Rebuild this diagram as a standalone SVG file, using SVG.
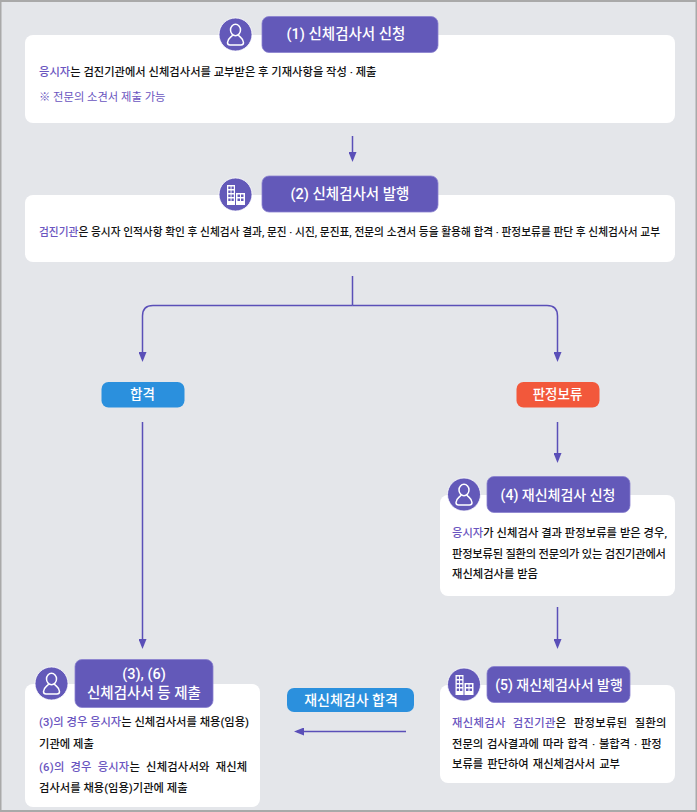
<svg xmlns="http://www.w3.org/2000/svg" width="697" height="812" viewBox="0 0 697 812">
<style>
text{font-family:Roboto,"Noto Sans CJK KR","Noto Sans",sans-serif}
.card{fill:#fff}
.head{fill:#6359b9;stroke:#8a82cf;stroke-width:.8}
.circ{fill:#6359b9;stroke:#fff;stroke-width:.8}
.ht{fill:#fff;font-size:14.5px;font-weight:500;text-anchor:middle}
.hs{fill:#fff;font-size:14px;font-weight:500;text-anchor:middle}
.ps{fill:#fff;font-size:13.5px;font-weight:500;text-anchor:middle}
.b{fill:#111;font-size:11.3px;font-weight:500}
.p{fill:#6a55c0}
.ln{fill:none;stroke:#5a4fb8;stroke-width:1.5}
.ic{fill:none;stroke:#fff;stroke-width:1.5}
.icf{fill:#fff}
.win{fill:#6359b9}
</style>
<defs>
<marker id="ah" markerUnits="userSpaceOnUse" markerWidth="10" markerHeight="8" refX="7" refY="4" orient="auto"><path d="M0 0L10 4L0 8Z" fill="#5a4fb8"/></marker>
<g id="person"><ellipse cx="0" cy="-5" rx="5" ry="5.700" class="ic"/><path d="M-2.800 0C-4.500 2.500-8 3.500-8 7.500Q-8 10-5.500 10H5.500Q8 10 8 7.500C8 3.500 4.500 2.500 2.800 0" class="ic"/></g>
<g id="bldg"><path class="icf" d="M-8.500-10h8v20h-8zM0.500-2h9v12h-9z"/><path class="win" d="M-7.200-8.500h2.300v2.500h-2.300zM-4-8.500h2.300v2.500h-2.300zM-7.200-4.500h2.300v2.500h-2.300zM-4-4.500h2.300v2.500h-2.300zM-7.200-0.500h2.300v2.500h-2.300zM-4-0.500h2.300v2.500h-2.300zM-7.200 3.500h2.300v2.500h-2.300zM-4 3.500h2.300v2.500h-2.300zM2-0.500h2.500v2.500h-2.500zM5.500-0.500h2.500v2.500h-2.500zM2 3.500h2.500v2.500h-2.500zM5.500 3.500h2.500v2.500h-2.500z"/></g>
</defs>
<rect width="697" height="812" fill="#a9a9a9"/>
<rect x="1.500" y="2" width="694" height="808" fill="#e4e6ea"/>
<g id="connectors">
<path class="ln" d="M352.500 136V159" marker-end="url(#ah)"/>
<path class="ln" d="M352.500 276V305.500M352.500 305.500H153Q142.500 305.500 142.500 316V359" marker-end="url(#ah)"/>
<path class="ln" d="M352.500 305.500H547Q557.500 305.500 557.500 316V359" marker-end="url(#ah)"/>
<path class="ln" d="M142.500 422V646" marker-end="url(#ah)"/>
<path class="ln" d="M557.500 422V460" marker-end="url(#ah)"/>
<path class="ln" d="M557.500 607V646" marker-end="url(#ah)"/>
<path class="ln" d="M406 731.500H297" marker-end="url(#ah)"/>
</g>
<g id="n1">
<rect class="card" x="25" y="35" width="650" height="88" rx="8"/>
<circle class="circ" cx="235.500" cy="34.500" r="16.500"/><use href="#person" x="235.500" y="35"/>
<rect class="head" x="262" y="16.500" width="176" height="36" rx="7"/>
<text class="ht" x="346" y="39">(1) 신체검사서 신청</text>
<text class="b" x="39" y="76"><tspan class="p">응시자</tspan>는 검진기관에서 신체검사서를 교부받은 후 기재사항을 작성 · 제출</text>
<text class="b p" x="39" y="101" style="font-weight:400">※ 전문의 소견서 제출 가능</text>
</g>
<g id="n2">
<rect class="card" x="25" y="195" width="650" height="67" rx="8"/>
<circle class="circ" cx="235.500" cy="194.500" r="16.500"/><use href="#bldg" x="235.500" y="195"/>
<rect class="head" x="262" y="176" width="176" height="36" rx="7"/>
<text class="ht" x="350" y="199">(2) 신체검사서 발행</text>
<text class="b" x="39" y="236" textLength="621" lengthAdjust="spacingAndGlyphs"><tspan class="p">검진기관</tspan>은 응시자 인적사항 확인 후 신체검사 결과, 문진 · 시진, 문진표, 전문의 소견서 등을 활용해 합격 · 판정보류를 판단 후 신체검사서 교부</text>
</g>
<g id="pass">
<rect x="101.500" y="382" width="83" height="25.500" rx="7" fill="#2b90dd"/>
<text class="ps" x="142.500" y="399">합격</text>
</g>
<g id="hold">
<rect x="516.500" y="382" width="83" height="25.500" rx="7" fill="#f2583b"/>
<text class="ps" x="557.500" y="399">판정보류</text>
</g>
<g id="n4">
<rect class="card" x="440" y="495" width="235" height="101" rx="8"/>
<circle class="circ" cx="464" cy="494.500" r="16.500"/><use href="#person" x="464" y="495"/>
<rect class="head" x="487" y="476.500" width="143" height="36" rx="7"/>
<text class="hs" x="558" y="500">(4) 재신체검사 신청</text>
<text class="b" x="452" y="537" textLength="215"><tspan class="p">응시자</tspan>가 신체검사 결과 판정보류를 받은 경우,</text>
<text class="b" x="452" y="558" textLength="214">판정보류된 질환의 전문의가 있는 검진기관에서</text>
<text class="b" x="452" y="578">재신체검사를 받음</text>
</g>
<g id="n5">
<rect class="card" x="440" y="685" width="235" height="98" rx="8"/>
<circle class="circ" cx="464" cy="684.500" r="16.500"/><use href="#bldg" x="464" y="685"/>
<rect class="head" x="487" y="666.500" width="143" height="36" rx="7"/>
<text class="hs" x="559" y="690">(5) 재신체검사서 발행</text>
<text class="b" x="452" y="727" word-spacing="4" letter-spacing=".35"><tspan class="p">재신체검사 검진기관</tspan>은 판정보류된 질환의</text>
<text class="b" x="452" y="748" word-spacing="1">전문의 검사결과에 따라 합격 · 불합격 · 판정</text>
<text class="b" x="452" y="768" word-spacing="1.200">보류를 판단하여 재신체검사서 교부</text>
</g>
<g id="n3">
<rect class="card" x="25" y="684" width="235" height="123" rx="8"/>
<circle class="circ" cx="51.500" cy="683.500" r="16.500"/><use href="#person" x="51.500" y="684"/>
<rect class="head" x="75" y="659.500" width="138" height="48" rx="7"/>
<text class="ht"><tspan x="144" y="679">(3), (6)</tspan><tspan x="144" y="698">신체검사서 등 제출</tspan></text>
<text class="b" x="39" y="726"><tspan class="p">(3)의 경우 응시자</tspan>는 신체검사서를 채용(임용)</text>
<text class="b" x="39" y="748">기관에 제출</text>
<text class="b" x="39" y="771" word-spacing="3" letter-spacing=".2"><tspan class="p">(6)의 경우 응시자</tspan>는 신체검사서와 재신체</text>
<text class="b" x="39" y="792">검사서를 채용(임용)기관에 제출</text>
</g>
<g id="retest">
<rect x="287" y="688" width="127" height="24" rx="7" fill="#2b90dd"/>
<text class="hs" x="351" y="705">재신체검사 합격</text>
</g>
</svg>
